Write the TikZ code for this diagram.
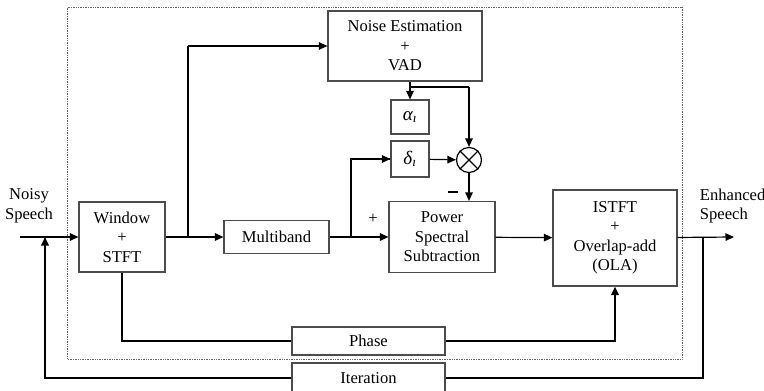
\documentclass[tikz,border=0pt]{standalone}
\usepackage{amsmath}
\usepackage{fontspec}
\setmainfont{Liberation Serif}
\usepackage{tikz}
\usetikzlibrary{arrows.meta}

\begin{document}
\begin{tikzpicture}[x=1pt,y=-1pt,>={Triangle[length=8.5pt,width=7.5pt]},line width=1.2pt,font=\fontsize{16.6}{19.5}\selectfont]
 				 \tikzstyle{block}=[draw=black!70, line width=1.2pt, fill=white, align=center, inner sep=0pt]
 				 \tikzstyle{bus}=[line width=2pt]
 				 \useasboundingbox (0,0) rectangle (764,391);
 				 % processing frame
 				 \draw[densely dotted, black!60, line width=0.7pt] (67.5,7.5) rectangle (682,359);
 					 \node[block, minimum width=86pt, minimum height=70pt]  (win)   at (122,237)   {Window\\+\\STFT};
 					 \node[block, minimum width=105pt, minimum height=33pt] (mb)    at (276.5,237) {Multiband};
 					 \node[block, minimum width=154pt, minimum height=70pt] (noise) at (405,46)    {Noise Estimation\\+\\VAD};
 					 \node[block, minimum width=38pt, minimum height=34pt]  (alpha) at (410,117)   {\fontsize{19}{20}\selectfont\itshape α\textsubscript{ı}};
 					 \node[block, minimum width=38pt, minimum height=36pt]  (delta) at (410,159)   {\fontsize{19}{20}\selectfont\itshape δ\textsubscript{ı}};
 					 \node[draw, circle, line width=1.2pt, minimum size=25pt, inner sep=0pt] (mul) at (469,160) {};
 					 \node[block, minimum width=106pt, minimum height=71pt] (pss)   at (442,237)   {Power\\Spectral\\Subtraction};
 					 \node[block, minimum width=124pt, minimum height=96pt] (istft) at (615,238)   {ISTFT\\+\\Overlap-add\\(OLA)};
 					 \node[block, minimum width=153pt, minimum height=28pt] (phase) at (368.5,341) {Phase};
 					 \node[block, minimum width=153pt, minimum height=30pt] (iter)  at (368.5,378) {Iteration};
 					 \node[align=center]          (noisy) at (29,206)   {Noisy\\Speech};
 					 \node[align=left, anchor=west] (enh) at (696,206)  {Enhanced\\Speech};
 					 \node (plus)  at (373,219) {+};
 					 \node (minus) at (453,192) {\rule{10pt}{2.4pt}};
 					 \coordinate (in)  at (20,237);
 					 \coordinate (fb)  at (45,237);
 					 \coordinate (b1)  at (188,237);
 					 \coordinate (b2)  at (351,237);
 					 \coordinate (j1)  at (410,87);
 					 \coordinate (b3)  at (703,237);
 					 \coordinate (out) at (734,237);
 				 % cross in the multiplier
 				 \draw (mul.north west) -- (mul.south east);
 				 \draw (mul.north east) -- (mul.south west);
				\draw[->] (in) -- (win);
				\draw[->] (win) -- (mb);
				\draw[bus] (b1) -- (b1 |- noise.west);
				\draw[->] (b1 |- noise.west) -- (noise.west);
				\draw[->] (mb) -- (pss);
				\draw[bus] (b2) |- (delta.west);
				\draw[->] ([xshift=-9pt]delta.west) -- (delta.west);
				\draw[->] (noise.south -| alpha) -- (alpha);
				\draw[bus] (j1) -- (j1 -| mul);
				\draw[->] (j1 -| mul) -- (mul);
				\draw[->] (delta) -- (mul);
				\draw[->] (mul) -- (mul |- pss.north);
				\draw[->] (pss) -- (istft);
				\draw[->] (istft) -- (out);
				\draw[bus] (win) |- (phase);
				\draw[bus,->] (phase) -| (istft);
				\draw[bus] (b3) |- (iter);
				\draw[bus,->] (iter) -| (fb);
\end{tikzpicture}
\end{document}
